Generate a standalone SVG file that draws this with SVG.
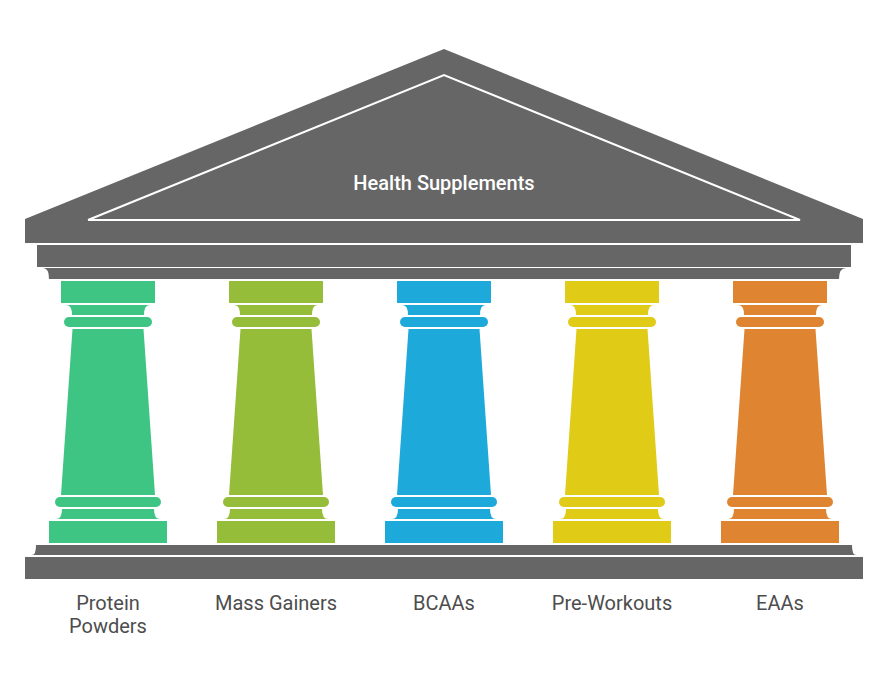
<svg xmlns="http://www.w3.org/2000/svg" width="888" height="688" viewBox="0 0 888 688">
<defs>
<style>
.stone{fill:#666666;}
.title{font-family:Roboto,"Liberation Sans",sans-serif;font-size:20px;font-weight:500;fill:#ffffff;text-anchor:middle;}
.label{font-family:Roboto,"Liberation Sans",sans-serif;font-size:20px;fill:#4d4d4d;text-anchor:middle;}
</style>
<g id="column">
<rect x="-47" y="281" width="94" height="22"/>
<path d="M-41.5,305 L41.5,305 Q36,305 36,315 L-36,315 Q-36,305 -41.5,305 Z"/>
<rect x="-44" y="317" width="88" height="10" rx="5" ry="5"/>
<path d="M-35.5,329 L35.5,329 L47,495 L-47,495 Z"/>
<rect x="-53" y="497" width="106" height="10" rx="5" ry="5"/>
<path d="M-46,509 L46,509 Q46,519 52,519 L-52,519 Q-46,519 -46,509 Z"/>
<rect x="-59" y="521" width="118" height="22"/>
</g>
</defs>
<rect width="888" height="688" fill="#ffffff"/>
<g id="roof">
<polygon class="stone" points="25,243 25,219 444,49 863,219 863,243"/>
<polyline points="88,220 444,75 800,220 88,220" fill="none" stroke="#ffffff" stroke-width="2"/>
<text class="title" x="444" y="190">Health Supplements</text>
</g>
<g id="entablature">
<rect class="stone" x="37" y="245" width="814" height="22"/>
<path class="stone" d="M43,268 L846,268 Q839,268 839,279 L49,279 Q49,268 43,268 Z"/>
</g>
<g id="col-protein">
<use href="#column" x="108" fill="#3ec583"/>
<text class="label" x="108" y="610">Protein</text>
<text class="label" x="108" y="633">Powders</text>
</g>
<g id="col-mass">
<use href="#column" x="276" fill="#95bd3a"/>
<text class="label" x="276" y="610">Mass Gainers</text>
</g>
<g id="col-bcaa">
<use href="#column" x="444" fill="#1ea9db"/>
<text class="label" x="444" y="610">BCAAs</text>
</g>
<g id="col-pre">
<use href="#column" x="612" fill="#e0cb16"/>
<text class="label" x="612" y="610">Pre-Workouts</text>
</g>
<g id="col-eaa">
<use href="#column" x="780" fill="#df8431"/>
<text class="label" x="780" y="610">EAAs</text>
</g>
<g id="base">
<path class="stone" d="M36,545 L852,545 Q852,555 856,555 L32,555 Q36,555 36,545 Z"/>
<rect class="stone" x="25" y="557" width="838" height="22"/>
</g>
<g id="connectors"></g>
</svg>
